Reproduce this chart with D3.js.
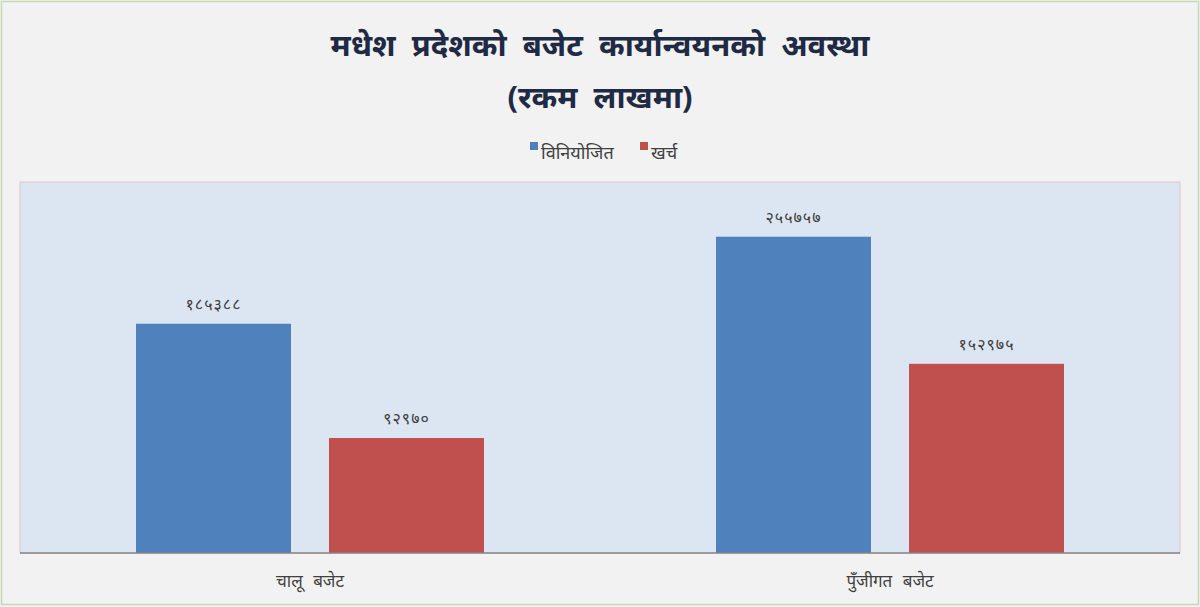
<!DOCTYPE html>
<html>
<head>
<meta charset="utf-8">
<script src="https://cdn.jsdelivr.net/npm/d3@7"></script>
<style>
  body { margin: 0; background: #f2f2f2; }
  svg { display: block; font-family: "Noto Sans", "Noto Sans Devanagari", sans-serif; }
</style>
</head>
<body>
<script>
// data
const categories = ["चालू बजेट", "पुँजीगत बजेट"];
const seriesNames = ["विनियोजित", "खर्च"];
const allocated = [185388, 255757];
const spent = [92970, 152975];
const seriesColors = ["#4f81bd", "#c0504d"];

const W = 1200, H = 607;
const plot = { left: 20, right: 1180, top: 182, bottom: 553 };

// Devanagari digits for bar labels
const devDigits = "०१२३४५६७८९";
const toDev = n => String(n).replace(/[0-9]/g, c => devDigits[+c]);

const rows = categories.map((c, i) => ({ cat: c, vals: [allocated[i], spent[i]] }));

const svg = d3.select("body")
    .append("svg")
    .attr("width", W)
    .attr("height", H);

// outer frame
svg.append("rect")
    .attr("x", 1.5).attr("y", 1.5)
    .attr("width", W - 3).attr("height", H - 4)
    .attr("fill", "#f2f2f2")
    .attr("stroke", "#c9d7b4")
    .attr("stroke-width", 1.5);

// plot area
svg.append("rect")
    .attr("x", plot.left).attr("y", plot.top)
    .attr("width", plot.right - plot.left)
    .attr("height", plot.bottom - plot.top)
    .attr("fill", "#dce6f2")
    .attr("stroke", "#e6c4c8")
    .attr("stroke-width", 1);

const x0 = d3.scaleBand()
    .domain(categories)
    .range([plot.left, plot.right])
    .paddingInner(0.4)
    .paddingOuter(0.2);

const x1 = d3.scaleBand()
    .domain(seriesNames)
    .range([0, x0.bandwidth()])
    .paddingInner(0.197);

const y = d3.scaleLinear()
    .domain([0, 300000])
    .range([plot.bottom, plot.top]);

const groups = svg.selectAll(".group")
    .data(rows)
    .enter().append("g")
    .attr("class", "group")
    .attr("transform", d => "translate(" + x0(d.cat) + ",0)");

groups.selectAll(".bar")
    .data(d => d.vals.map((v, i) => ({ name: seriesNames[i], value: v, i: i })))
    .enter().append("rect")
    .attr("class", "bar")
    .attr("x", d => x1(d.name))
    .attr("width", x1.bandwidth())
    .attr("y", d => y(d.value))
    .attr("height", d => y(0) - y(d.value))
    .attr("fill", d => seriesColors[d.i]);

// value labels
groups.selectAll(".val")
    .data(d => d.vals.map((v, i) => ({ name: seriesNames[i], value: v })))
    .enter().append("text")
    .attr("class", "val")
    .attr("x", d => x1(d.name) + x1.bandwidth() / 2)
    .attr("y", d => y(d.value) - 14)
    .attr("text-anchor", "middle")
    .attr("fill", "#404040")
    .style("font-size", "16px")
    .style("letter-spacing", "1px")
    .text(d => toDev(d.value));

// x axis
const xAxis = svg.append("g")
    .attr("transform", "translate(0," + plot.bottom + ")")
    .call(d3.axisBottom(x0).tickSize(0).tickPadding(22));
xAxis.select(".domain").attr("stroke", "#868686").attr("stroke-width", 1.5)
    .attr("d", "M" + plot.left + ",0H" + plot.right);
xAxis.selectAll("text")
    .attr("fill", "#404040")
    .style("font-size", "17px")
    .style("word-spacing", "6px")
    .style("font-family", "\"Noto Sans\", \"Noto Sans Devanagari\", sans-serif");

// title
svg.append("text")
    .attr("x", W / 2).attr("y", 56)
    .attr("text-anchor", "middle")
    .attr("fill", "#1f2a44")
    .style("font-size", "31px")
    .style("font-weight", "bold")
    .style("word-spacing", "8px")
    .text("मधेश प्रदेशको बजेट कार्यान्वयनको अवस्था");

svg.append("text")
    .attr("x", W / 2).attr("y", 108)
    .attr("text-anchor", "middle")
    .attr("fill", "#1f2a44")
    .style("font-size", "31px")
    .style("font-weight", "bold")
    .style("word-spacing", "8px")
    .text("(रकम लाखमा)");

// legend
const legend = svg.append("g").attr("transform", "translate(530,0)");
const legendX = [0, 110];
seriesNames.forEach((s, i) => {
    const g = legend.append("g").attr("transform", "translate(" + legendX[i] + ",0)");
    g.append("rect")
        .attr("x", 0).attr("y", 142)
        .attr("width", 8).attr("height", 8)
        .attr("fill", seriesColors[i]);
    g.append("text")
        .attr("x", 11).attr("y", 159)
        .attr("fill", "#404040")
        .style("font-size", "18px")
        .text(s);
});
</script>
</body>
</html>
